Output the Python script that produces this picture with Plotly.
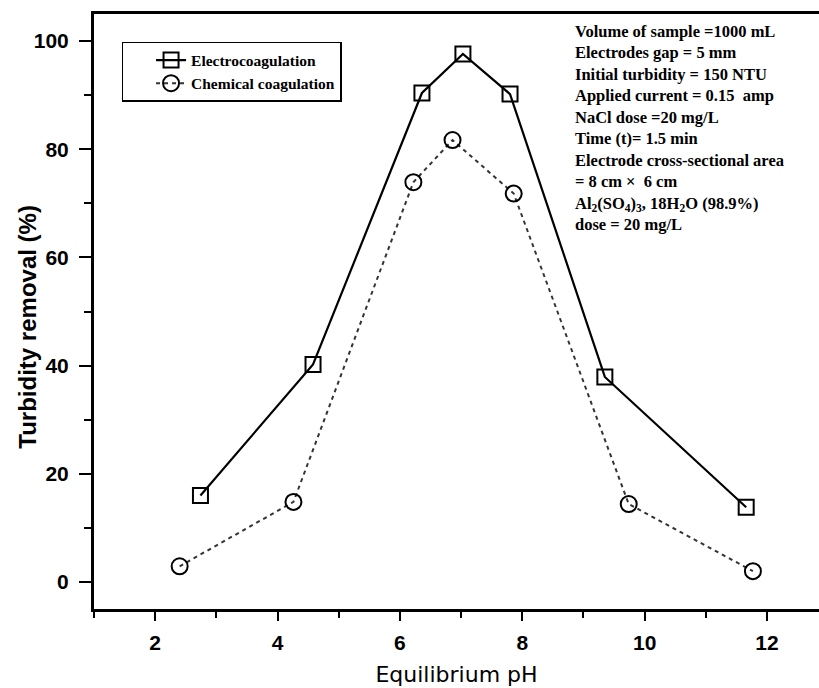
import plotly.graph_objects as go

# ---- data ----
ph_electro = [2.74, 4.58, 6.36, 7.03, 7.80, 9.35, 11.66]
removal_electro = [16.0, 40.2, 90.4, 97.6, 90.2, 37.9, 13.8]

ph_chem = [2.40, 4.26, 6.22, 6.86, 7.86, 9.74, 11.77]
removal_chem = [2.9, 14.8, 73.9, 81.7, 71.8, 14.4, 2.0]

x_tick_vals = [2, 4, 6, 8, 10, 12]
y_tick_vals = [0, 20, 40, 60, 80, 100]

series_names = ["Electrocoagulation", "Chemical coagulation"]
x_title = "Equilibrium pH"
y_title = "Turbidity removal (%)"

conditions = [
    "Volume of sample =1000 mL",
    "Electrodes gap = 5 mm",
    "Initial turbidity = 150 NTU",
    "Applied current = 0.15  amp",
    "NaCl dose =20 mg/L",
    "Time (t)= 1.5 min",
    "Electrode cross-sectional area",
    "= 8 cm \u00d7  6 cm",
    "Al<sub>2</sub>(SO<sub>4</sub>)<sub>3</sub>, 18H<sub>2</sub>O (98.9%)",
    "dose = 20 mg/L",
]

SERIF = "Liberation Serif, Times New Roman, serif"
SANS = "Liberation Sans, Arial, sans-serif"

fig = go.Figure()
fig.add_trace(go.Scatter(
    x=ph_electro, y=removal_electro, name=series_names[0],
    mode="lines+markers",
    line=dict(color="black", width=2.2),
    marker=dict(symbol="square-open", size=15, color="black", line=dict(width=2)),
))
fig.add_trace(go.Scatter(
    x=ph_chem, y=removal_chem, name=series_names[1],
    mode="lines+markers",
    line=dict(color="#333333", width=2, dash="4px,4px"),
    marker=dict(symbol="circle-open", size=16, color="black", line=dict(width=2)),
))

fig.add_annotation(
    xref="paper", yref="paper", x=0.66, y=0.99,
    xanchor="left", yanchor="top", align="left", showarrow=False,
    text="<br>".join(conditions),
    font=dict(family=SERIF, size=16.5, color="black", weight="bold"),
)

# y-axis title placed as rotated text next to the tick labels
fig.add_annotation(
    xref="paper", yref="paper", x=-0.092, y=0.475,
    xanchor="center", yanchor="middle", textangle=-90, showarrow=False,
    text=y_title,
    font=dict(family=SANS, size=24, color="black", weight="bold"),
)

fig.update_layout(
    width=819, height=688,
    margin=dict(l=94, r=0, t=14, b=79),
    paper_bgcolor="white", plot_bgcolor="white",
    showlegend=True,
    legend=dict(
        x=0.038, y=0.953, xanchor="left", yanchor="top",
        bordercolor="black", borderwidth=1.5, bgcolor="white",
        font=dict(family=SERIF, size=15.5, color="black", weight="bold"),
        indentation=28, tracegroupgap=0,
    ),
    xaxis=dict(
        range=[1, 12.85], tickvals=x_tick_vals,
        showline=True, linewidth=3, linecolor="black", mirror=True,
        ticks="outside", ticklen=9, tickwidth=2, tickcolor="black",
        minor=dict(dtick=1, tick0=1, ticks="outside", ticklen=6, tickwidth=2, tickcolor="black"),
        showgrid=False, zeroline=False,
        tickfont=dict(family=SANS, size=21, color="black", weight="bold"),
        ticklabelstandoff=4,
        title=dict(text=x_title, standoff=14,
                   font=dict(family="DejaVu Sans, sans-serif", size=22, color="black")),
    ),
    yaxis=dict(
        range=[-5, 105], tickvals=y_tick_vals,
        showline=True, linewidth=3, linecolor="black", mirror=False,
        ticks="outside", ticklen=12, tickwidth=2, tickcolor="black",
        minor=dict(dtick=10, tick0=0, ticks="outside", ticklen=7, tickwidth=2, tickcolor="black"),
        showgrid=False, zeroline=False,
        tickfont=dict(family=SANS, size=21, color="black", weight="bold"),
        ticklabelstandoff=6,
    ),
)

fig.write_html("out.html")
